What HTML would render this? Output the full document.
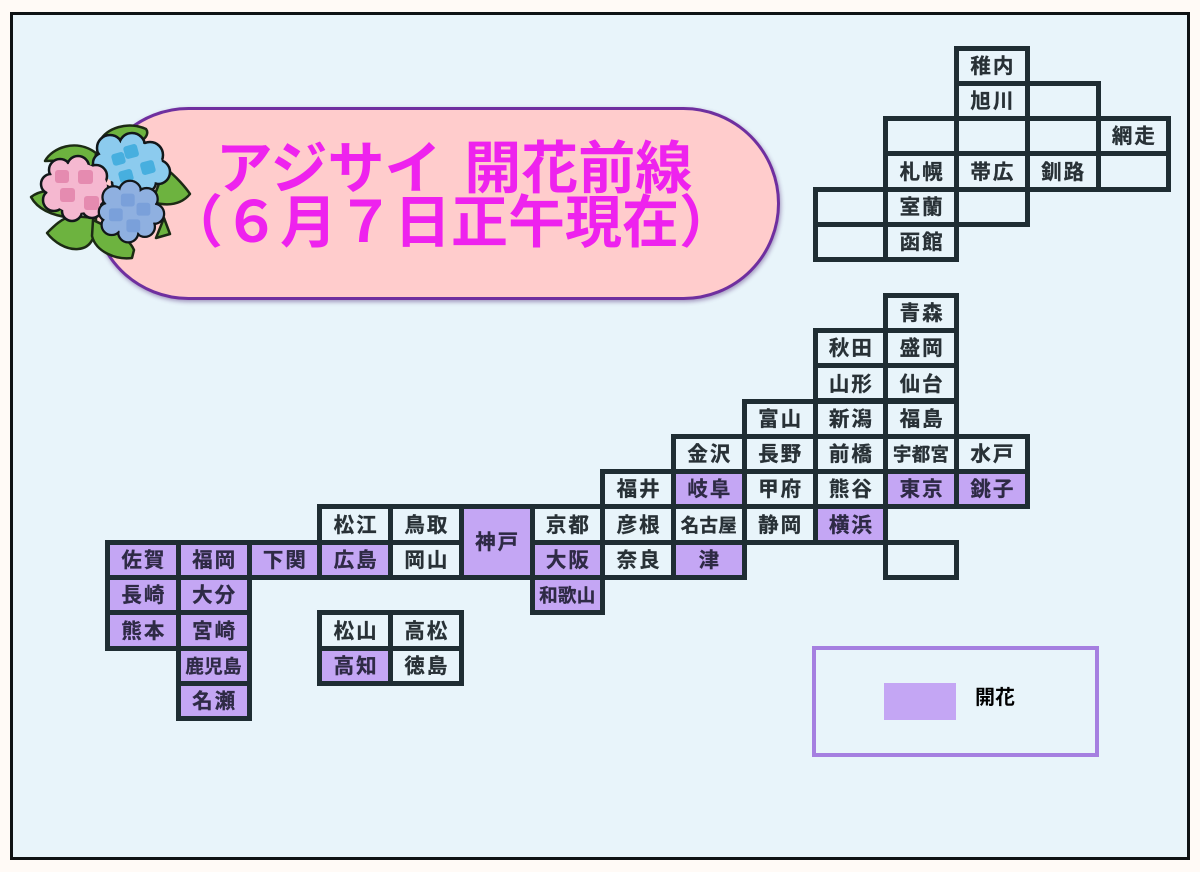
<!DOCTYPE html>
<html lang="ja"><head><meta charset="utf-8"><title>アジサイ 開花前線</title>
<style>
html,body{margin:0;padding:0;background:#fffaf6}
#p{position:relative;width:1200px;height:872px;overflow:hidden;background:#fffaf6;font-family:"Liberation Sans","Noto Sans CJK JP",sans-serif;filter:blur(.3px)}
#f{position:absolute;left:10px;top:12px;width:1180px;height:848px;box-sizing:border-box;border:3.5px solid #0e1214;background:#e8f4fa}
.c{position:absolute;left:calc(105px + 70.75px*var(--c));top:calc(45.5px + 35.3px*var(--r));width:75.75px;height:40.3px;box-sizing:border-box;border:5px solid #1f2d33;padding:3px 0 0 2px;display:flex;align-items:center;justify-content:center;font-weight:700;font-size:20.5px;letter-spacing:2px;color:#283136;-webkit-text-stroke:.3px #283136;line-height:1;white-space:nowrap}
.k{background:#c4a6f4;color:#2e2a45;-webkit-text-stroke:.3px #2e2a45}
.t{height:75.6px}
.s{font-size:18.5px;letter-spacing:.3px;padding-left:0}
#pill{position:absolute;left:92px;top:107px;width:688px;height:193px;box-sizing:border-box;border:3px solid #6f2f9f;border-radius:97px;background:#ffcccc;box-shadow:1px 2px 4px rgba(80,40,120,.45)}
.h{position:absolute;width:726px;text-align:center;color:#ee22ee;font-weight:700;font-size:57px;line-height:57px;white-space:nowrap}
#lg{position:absolute;left:812px;top:646px;width:287px;height:111px;box-sizing:border-box;border:4px solid #a57fe0}
#sw{position:absolute;left:884px;top:683px;width:72px;height:37px;background:#c4a6f4}
#lt{position:absolute;left:975px;top:688px;font-size:20px;line-height:20px;font-weight:700;color:#000}
svg{position:absolute;left:0;top:0}
</style></head><body><div id="p">
<div id="f"></div>
<div id="pill"></div>
<div class="h" style="top:141px;left:91px;word-spacing:7px">アジサイ 開花前線</div>
<div class="h" style="top:195px;left:88px">（６月７日正午現在）</div>
<svg width="200" height="270" viewBox="0 0 200 270">
<g stroke="#1c2a14" stroke-width="2.5" fill="#6db33f" stroke-linejoin="round">
<path d="M100 141C106 128 128 121 146 129C149 133 146 138 142 140C128 150 110 150 100 141Z"/>
<path d="M45 161C52 148 76 138 96 153L94 170C78 162 60 160 45 161Z"/>
<path d="M31 197C40 190 50 190 66 192L72 218C54 216 38 210 31 197Z"/>
<path d="M47 233C54 226 62 218 72 216L96 218C96 236 92 248 78 249C66 250 54 242 47 233Z"/>
<path d="M93 220C110 228 128 236 134 250L132 258C116 260 96 252 92 236Z"/>
<path d="M165 168C176 176 186 188 190 194C180 206 166 206 152 202Z"/>
<path d="M156 238L170 234L164 218Z"/>
</g>
<g fill="#8ccbee" stroke="#12171a" stroke-width="2.5">
<circle cx="110" cy="148" r="13"/><circle cx="132" cy="146" r="13"/><circle cx="150" cy="155" r="13"/><circle cx="158" cy="172" r="12"/><circle cx="146" cy="182" r="10"/><circle cx="122" cy="182" r="10"/><circle cx="103" cy="163" r="10"/>
</g>
<ellipse cx="131" cy="164" rx="31" ry="22" fill="#8ccbee"/>
<g fill="#8ccbee"><circle cx="110" cy="148" r="11.5"/><circle cx="132" cy="146" r="11.5"/><circle cx="150" cy="155" r="11.5"/><circle cx="158" cy="172" r="10.5"/><circle cx="146" cy="182" r="8.5"/><circle cx="122" cy="182" r="8.5"/><circle cx="103" cy="163" r="8.5"/></g>
<g fill="#47afdf"><rect x="112" y="153" width="13" height="12" rx="3" transform="rotate(-15 118 159)"/><rect x="124" y="145" width="14" height="13" rx="3" transform="rotate(-15 131 151)"/><rect x="119" y="170" width="14" height="12" rx="3" transform="rotate(-15 126 176)"/><rect x="141" y="161" width="14" height="13" rx="3" transform="rotate(-15 148 168)"/></g>
<g fill="#f5b8d0" stroke="#12171a" stroke-width="2.5">
<circle cx="60" cy="170" r="11"/><circle cx="78" cy="167" r="11"/><circle cx="96" cy="176" r="11"/><circle cx="103" cy="194" r="9"/><circle cx="92" cy="208" r="10"/><circle cx="72" cy="211" r="10"/><circle cx="54" cy="200" r="11"/><circle cx="51" cy="184" r="10"/>
</g>
<ellipse cx="77" cy="188" rx="30" ry="25" fill="#f5b8d0"/>
<g fill="#f5b8d0"><circle cx="60" cy="170" r="9.5"/><circle cx="78" cy="167" r="9.5"/><circle cx="96" cy="176" r="9.5"/><circle cx="103" cy="194" r="7.5"/><circle cx="92" cy="208" r="8.5"/><circle cx="72" cy="211" r="8.5"/><circle cx="54" cy="200" r="9.5"/><circle cx="51" cy="184" r="8.5"/></g>
<g fill="#e58bb0"><rect x="55" y="170" width="14" height="13" rx="3"/><rect x="78" y="170" width="15" height="14" rx="3"/><rect x="60" y="188" width="15" height="14" rx="3"/><rect x="84" y="196" width="15" height="14" rx="3"/></g>
<g transform="translate(131 212) scale(.92) translate(-131 -212)">
<g fill="#8fb0e0" stroke="#12171a" stroke-width="2.5">
<circle cx="112" cy="196" r="12"/><circle cx="130" cy="190" r="12"/><circle cx="148" cy="198" r="12"/><circle cx="156" cy="214" r="11"/><circle cx="146" cy="228" r="11"/><circle cx="128" cy="234" r="11"/><circle cx="110" cy="226" r="11"/><circle cx="106" cy="212" r="10"/>
</g>
<ellipse cx="131" cy="212" rx="28" ry="23" fill="#8fb0e0"/>
<g fill="#8fb0e0"><circle cx="112" cy="196" r="10.5"/><circle cx="130" cy="190" r="10.5"/><circle cx="148" cy="198" r="10.5"/><circle cx="156" cy="214" r="9.5"/><circle cx="146" cy="228" r="9.5"/><circle cx="128" cy="234" r="9.5"/><circle cx="110" cy="226" r="9.5"/><circle cx="106" cy="212" r="8.5"/></g>
<g fill="#7aa0da"><rect x="120" y="192" width="15" height="14" rx="3"/><rect x="137" y="202" width="15" height="14" rx="3"/><rect x="107" y="208" width="15" height="14" rx="3"/><rect x="126" y="220" width="15" height="14" rx="3"/></g>
</g>
</svg>
<div class="c" style="--c:12;--r:0">稚内</div>
<div class="c" style="--c:12;--r:1">旭川</div>
<div class="c" style="--c:13;--r:1"></div>
<div class="c" style="--c:11;--r:2"></div>
<div class="c" style="--c:12;--r:2"></div>
<div class="c" style="--c:13;--r:2"></div>
<div class="c" style="--c:14;--r:2">網走</div>
<div class="c" style="--c:11;--r:3">札幌</div>
<div class="c" style="--c:12;--r:3">帯広</div>
<div class="c" style="--c:13;--r:3">釧路</div>
<div class="c" style="--c:14;--r:3"></div>
<div class="c" style="--c:10;--r:4"></div>
<div class="c" style="--c:11;--r:4">室蘭</div>
<div class="c" style="--c:12;--r:4"></div>
<div class="c" style="--c:10;--r:5"></div>
<div class="c" style="--c:11;--r:5">函館</div>
<div class="c" style="--c:11;--r:7">青森</div>
<div class="c" style="--c:10;--r:8">秋田</div>
<div class="c" style="--c:11;--r:8">盛岡</div>
<div class="c" style="--c:10;--r:9">山形</div>
<div class="c" style="--c:11;--r:9">仙台</div>
<div class="c" style="--c:9;--r:10">富山</div>
<div class="c" style="--c:10;--r:10">新潟</div>
<div class="c" style="--c:11;--r:10">福島</div>
<div class="c" style="--c:8;--r:11">金沢</div>
<div class="c" style="--c:9;--r:11">長野</div>
<div class="c" style="--c:10;--r:11">前橋</div>
<div class="c s" style="--c:11;--r:11">宇都宮</div>
<div class="c" style="--c:12;--r:11">水戸</div>
<div class="c" style="--c:7;--r:12">福井</div>
<div class="c k" style="--c:8;--r:12">岐阜</div>
<div class="c" style="--c:9;--r:12">甲府</div>
<div class="c" style="--c:10;--r:12">熊谷</div>
<div class="c k" style="--c:11;--r:12">東京</div>
<div class="c k" style="--c:12;--r:12">銚子</div>
<div class="c" style="--c:3;--r:13">松江</div>
<div class="c" style="--c:4;--r:13">鳥取</div>
<div class="c k t" style="--c:5;--r:13">神戸</div>
<div class="c" style="--c:6;--r:13">京都</div>
<div class="c" style="--c:7;--r:13">彦根</div>
<div class="c s" style="--c:8;--r:13">名古屋</div>
<div class="c" style="--c:9;--r:13">静岡</div>
<div class="c k" style="--c:10;--r:13">横浜</div>
<div class="c k" style="--c:0;--r:14">佐賀</div>
<div class="c k" style="--c:1;--r:14">福岡</div>
<div class="c k" style="--c:2;--r:14">下関</div>
<div class="c k" style="--c:3;--r:14">広島</div>
<div class="c" style="--c:4;--r:14">岡山</div>
<div class="c k" style="--c:6;--r:14">大阪</div>
<div class="c" style="--c:7;--r:14">奈良</div>
<div class="c k" style="--c:8;--r:14">津</div>
<div class="c" style="--c:11;--r:14"></div>
<div class="c k" style="--c:0;--r:15">長崎</div>
<div class="c k" style="--c:1;--r:15">大分</div>
<div class="c k s" style="--c:6;--r:15">和歌山</div>
<div class="c k" style="--c:0;--r:16">熊本</div>
<div class="c k" style="--c:1;--r:16">宮崎</div>
<div class="c" style="--c:3;--r:16">松山</div>
<div class="c" style="--c:4;--r:16">高松</div>
<div class="c k s" style="--c:1;--r:17">鹿児島</div>
<div class="c k" style="--c:3;--r:17">高知</div>
<div class="c" style="--c:4;--r:17">徳島</div>
<div class="c k" style="--c:1;--r:18">名瀬</div>
<div id="lg"></div><div id="sw"></div><div id="lt">開花</div>
</div></body></html>
